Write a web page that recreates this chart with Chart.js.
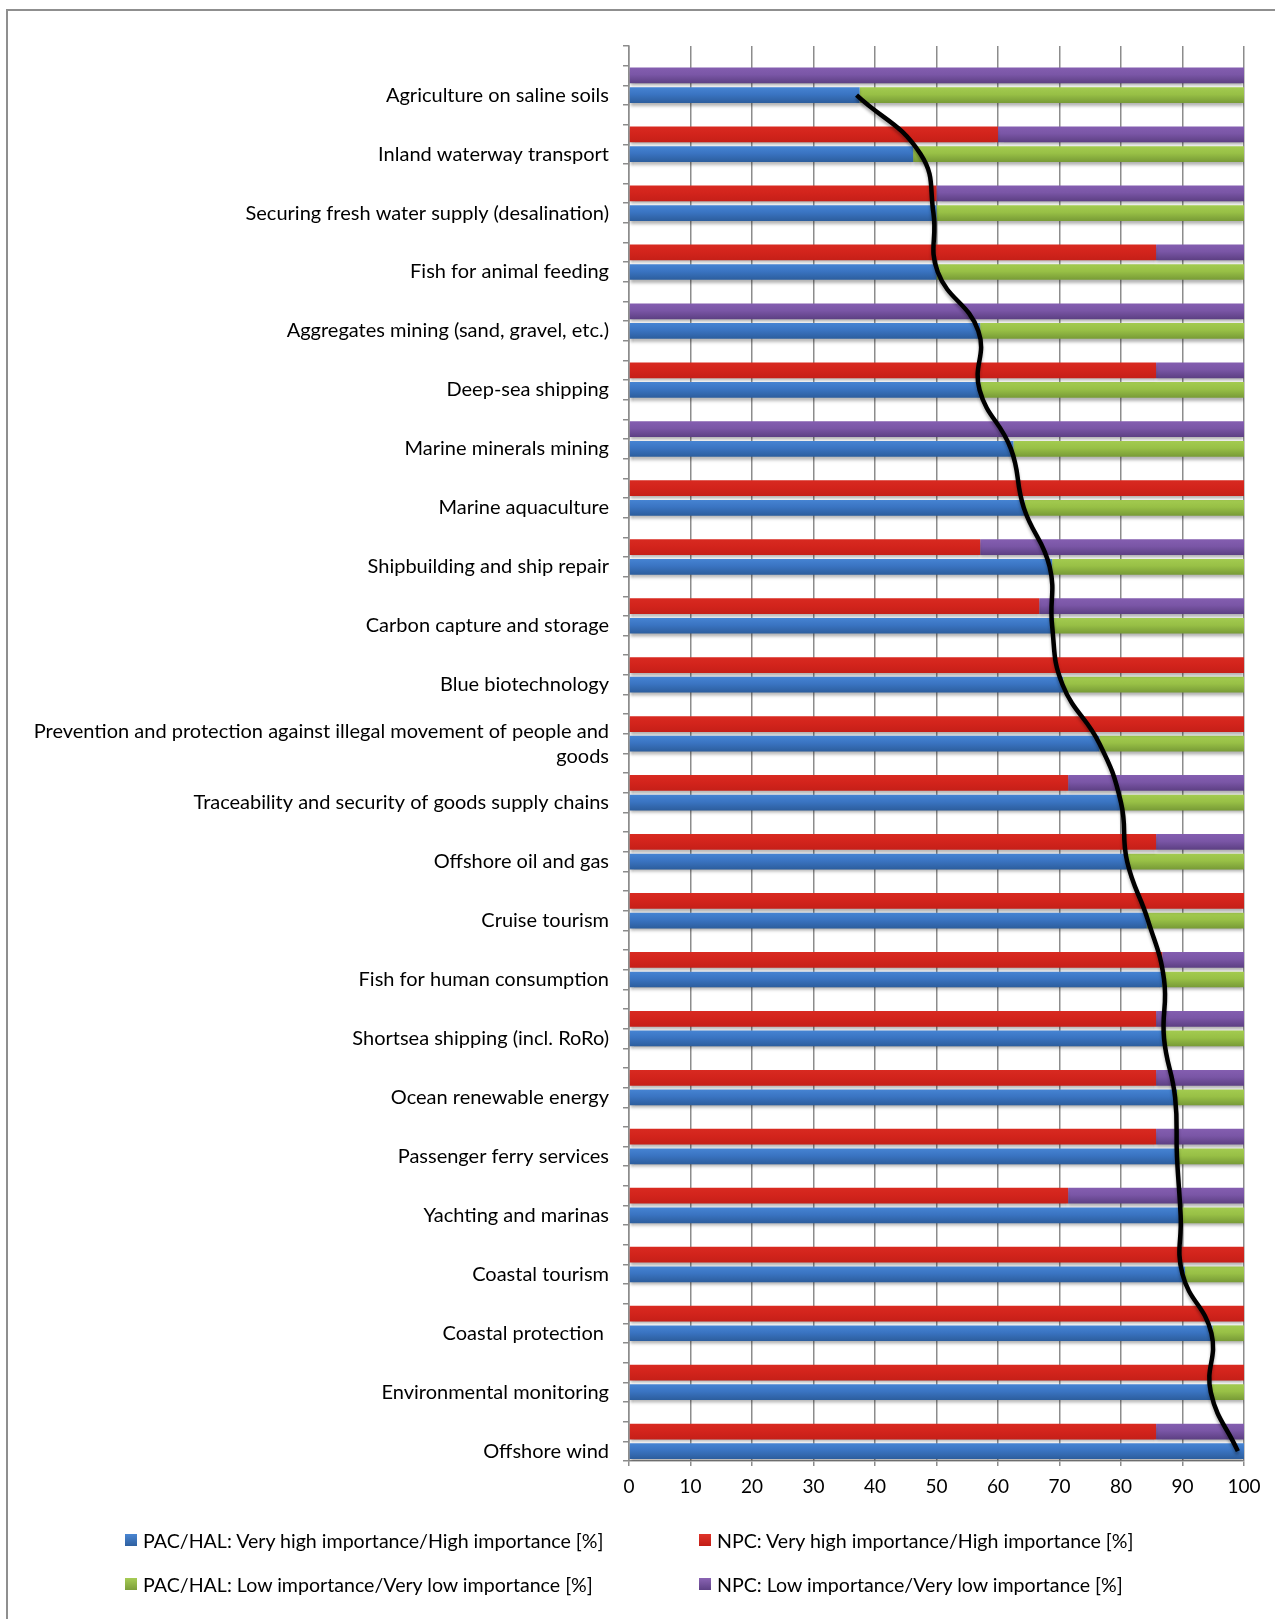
<!DOCTYPE html>
<html><head><meta charset="utf-8">
<script src="https://cdn.jsdelivr.net/npm/chart.js@4.4.1/dist/chart.umd.min.js"></script>
<style>
html,body{margin:0;padding:0;background:#fff;}
#wrap{position:relative;width:1275px;height:1619px;overflow:hidden;font-family:Lato,sans-serif;}
#frame{position:absolute;left:6px;top:9px;width:1400px;height:1800px;border-left:2px solid #8f8f8f;border-top:2px solid #8f8f8f;}
canvas{position:absolute;left:0;top:0;}
.leg{position:absolute;height:24px;display:flex;align-items:center;font-size:19.6px;color:#000;white-space:nowrap;}
.leg i{display:inline-block;width:12px;height:12px;margin-right:6px;}
</style></head>
<body><div id="wrap"><div id="frame"></div>
<canvas id="c" width="1275" height="1619"></canvas>
<div class="leg" style="left:125px;top:1528px"><i style="background:linear-gradient(#4a86d2,#2e60a0)"></i>PAC/HAL: Very high importance/High importance [%]</div>
<div class="leg" style="left:699px;top:1528px"><i style="background:linear-gradient(#e0342a,#c21d16)"></i>NPC: Very high importance/High importance [%]</div>
<div class="leg" style="left:125px;top:1572px"><i style="background:linear-gradient(#a6cc55,#7c9e3a)"></i>PAC/HAL: Low importance/Very low importance [%]</div>
<div class="leg" style="left:699px;top:1572px"><i style="background:linear-gradient(#8a64b4,#5e4185)"></i>NPC: Low importance/Very low importance [%]</div>
</div>
<script>
const categories = [
  "Agriculture on saline soils",
  "Inland waterway transport",
  "Securing fresh water supply (desalination)",
  "Fish for animal feeding",
  "Aggregates mining (sand, gravel, etc.)",
  "Deep-sea shipping",
  "Marine minerals mining",
  "Marine aquaculture",
  "Shipbuilding and ship repair",
  "Carbon capture and storage",
  "Blue biotechnology",
  ["Prevention and protection against illegal movement of people and", "goods"],
  "Traceability and security of goods supply chains",
  "Offshore oil and gas",
  "Cruise tourism",
  "Fish for human consumption",
  "Shortsea shipping (incl. RoRo)",
  "Ocean renewable energy",
  "Passenger ferry services",
  "Yachting and marinas",
  "Coastal tourism",
  "Coastal protection ",
  "Environmental monitoring",
  "Offshore wind"
];
const pacHigh = [37.5, 46.2, 50, 50, 57.1, 57.1, 62.5, 64.3, 68.8, 69.1, 70.6, 76.5, 80, 81, 84.2, 86.7, 87, 89.1, 89.3, 89.8, 90.4, 94.9, 94.7, 100];
const pacLow  = [62.5, 53.8, 50, 50, 42.9, 42.9, 37.5, 35.7, 31.2, 30.9, 29.4, 23.5, 20, 19, 15.8, 13.3, 13, 10.9, 10.7, 10.2, 9.6, 5.1, 5.3, 0];
const npcHigh = [0, 60, 50, 85.7, 0, 85.7, 0, 100, 57.1, 66.7, 100, 100, 71.4, 85.7, 100, 86.7, 85.7, 85.7, 85.7, 71.4, 100, 100, 100, 85.7];
const npcLow  = [100, 40, 50, 14.3, 100, 14.3, 100, 0, 42.9, 33.3, 0, 0, 28.6, 14.3, 0, 13.3, 14.3, 14.3, 14.3, 28.6, 0, 0, 0, 14.3];
const trendLine = [37, 47.4, 49.5, 50.2, 56.8, 57, 62.1, 64.2, 68.4, 68.8, 70.5, 76.5, 80, 81, 84.4, 87, 87, 88.8, 89.1, 89.7, 90, 94.7, 94.6, 99];
const xTicks = [0, 10, 20, 30, 40, 50, 60, 70, 80, 90, 100];

// each category: gap slot, NPC slot, PAC slot
const slotLabels = [];
categories.forEach(c => slotLabels.push('', '', c));
const npcSlots = arr => arr.flatMap(v => [null, v, null]);
const pacSlots = arr => arr.flatMap(v => [null, null, v]);

const FONT = 'Lato';
function grad(stops, flat) {
  return (ctx) => {
    const chart = ctx.chart;
    if (ctx.type !== 'data' || !chart.chartArea || !chart.scales.y) return flat;
    const y = chart.scales.y.getPixelForValue(ctx.dataIndex);
    const g = chart.ctx.createLinearGradient(0, y - 8, 0, y + 8);
    g.addColorStop(0, stops[0]); g.addColorStop(0.45, stops[1]); g.addColorStop(1, stops[2]);
    return g;
  };
}
const shadowPlugin = {
  id: 'shadow',
  beforeDatasetDraw(chart) {
    const c = chart.ctx; c.save();
    c.shadowColor = 'rgba(0,0,0,0.3)'; c.shadowBlur = 3; c.shadowOffsetX = 0; c.shadowOffsetY = 3;
  },
  afterDatasetDraw(chart) { chart.ctx.restore(); }
};

new Chart(document.getElementById('c'), {
  type: 'bar',
  data: {
    labels: slotLabels,
    datasets: [
      { type: 'line', label: 'trend', data: pacSlots(trendLine), indexAxis: 'y', stack: 'trend',
        borderColor: '#000', borderWidth: 4.5, pointRadius: 0, tension: 0.45, spanGaps: true, fill: false, order: 0 },
      { label: 'PAC/HAL: Very high importance/High importance [%]', data: pacSlots(pacHigh), stack: 'bars', order: 1,
        backgroundColor: grad(['#4684d3', '#3a74c2', '#2c5d9c'], '#3a74c2') },
      { label: 'NPC: Very high importance/High importance [%]', data: npcSlots(npcHigh), stack: 'bars', order: 1,
        backgroundColor: grad(['#d82a21', '#d3241c', '#c51f18'], '#d3241c') },
      { label: 'PAC/HAL: Low importance/Very low importance [%]', data: pacSlots(pacLow), stack: 'bars', order: 1,
        backgroundColor: grad(['#a3cb50', '#98c046', '#779a36'], '#98c046') },
      { label: 'NPC: Low importance/Very low importance [%]', data: npcSlots(npcLow), stack: 'bars', order: 1,
        backgroundColor: grad(['#845eb0', '#7a56a6', '#5c3f82'], '#7a56a6') }
    ]
  },
  options: {
    indexAxis: 'y',
    responsive: false,
    animation: false,
    devicePixelRatio: 1,
    layout: { padding: { left: 0, right: 31, top: 46, bottom: 118 } },
    datasets: { bar: { barPercentage: 0.8, categoryPercentage: 1.0 } },
    plugins: { legend: { display: false }, tooltip: { enabled: false } },
    scales: {
      x: {
        type: 'linear', min: 0, max: 100, stacked: true, position: 'bottom',
        afterBuildTicks(s) { s.ticks = xTicks.map(v => ({ value: v })); },
        ticks: { font: { family: FONT, size: 19 }, color: '#000', padding: 9 },
        grid: { color: '#8c8c8c', lineWidth: 1.5, tickLength: 5, drawTicks: true },
        border: { display: true, color: '#8c8c8c', width: 1.5 },
        afterFit(s) { s.height = 40; }
      },
      y: {
        type: 'category', stacked: true, offset: true,
        ticks: { autoSkip: false, font: { family: FONT, size: 20, lineHeight: 1.25 }, color: '#000', padding: 14 },
        grid: { offset: true, drawOnChartArea: false, drawTicks: true, tickLength: 6, color: '#8c8c8c', lineWidth: 1.5 },
        border: { display: true, color: '#8c8c8c', width: 1.5 },
        afterFit(s) { s.width = 629; }
      }
    }
  },
  plugins: [shadowPlugin]
});
</script>
</body></html>
